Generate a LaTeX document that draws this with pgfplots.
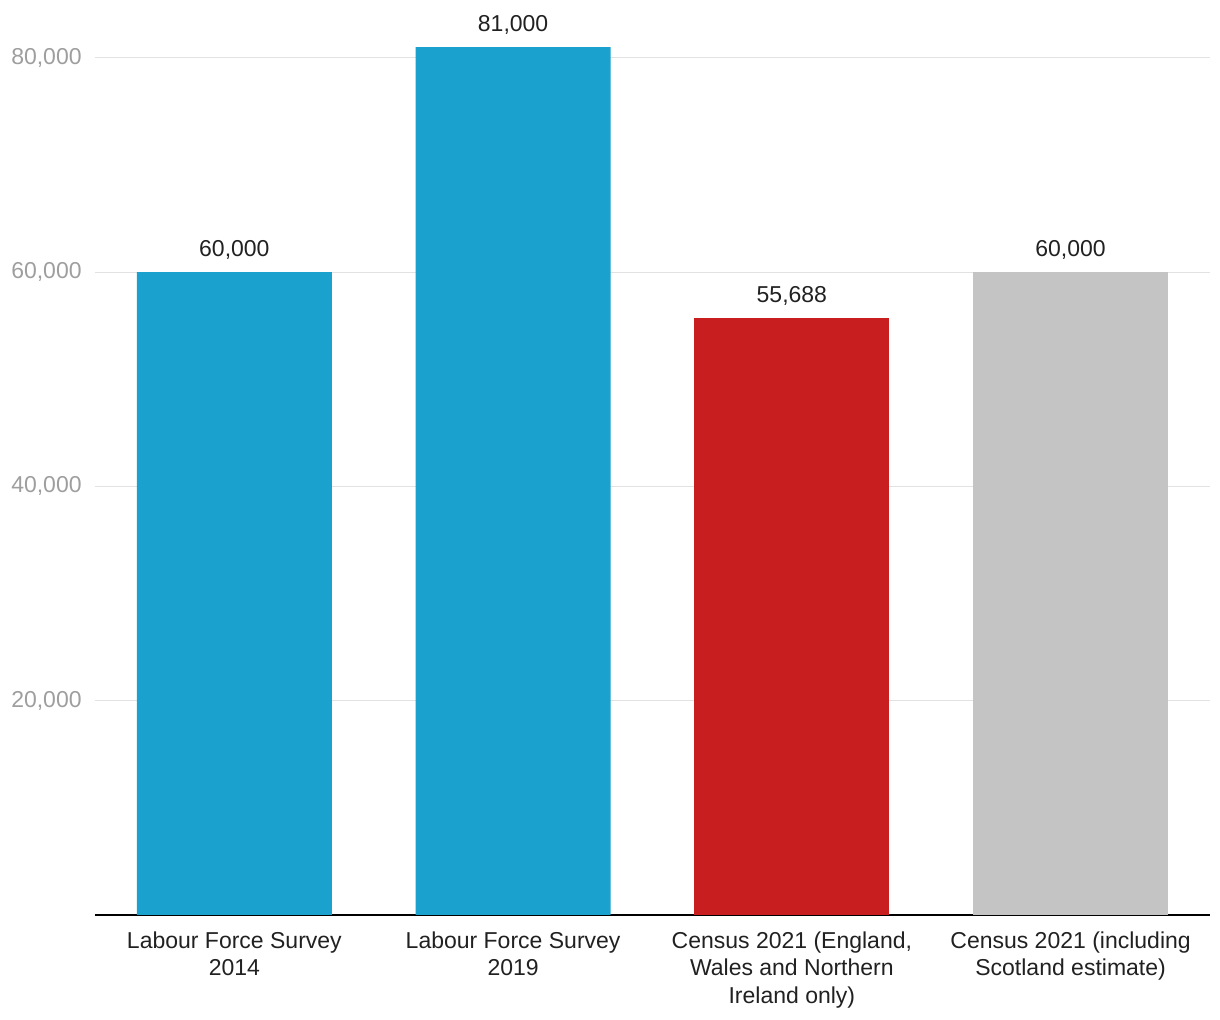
\documentclass[border=0pt]{standalone}
\usepackage{pgfplots}
\pgfplotsset{compat=1.18}
\usepackage{fontspec}
\setmainfont{Liberation Sans}
\definecolor{cblue}{HTML}{1AA1CE}
\definecolor{cred}{HTML}{C91E1F}
\definecolor{cgray}{HTML}{C4C4C4}
\definecolor{ticklab}{HTML}{9E9E9E}
\definecolor{gridc}{HTML}{E2E2E2}
\definecolor{txt}{HTML}{212121}
\begin{document}
\begin{tikzpicture}
\begin{axis}[
  scale only axis,
  width=557.5pt, height=457.5pt,
  xmin=-0.5, xmax=3.5,
  ymin=0, ymax=85400,
  ybar, bar width=0.7, bar shift=0pt,
  axis x line*=bottom, axis y line*=left,
  x axis line style={black, line width=1pt, -},
  y axis line style={draw=none},
  xtick={0,1,2,3},
  xticklabels={{Labour Force Survey\\2014},{Labour Force Survey\\2019},{Census 2021 (England,\\Wales and Northern\\Ireland only)},{Census 2021 (including\\Scotland estimate)}},
  xticklabel style={align=center, font=\fontsize{11.5}{13.8}\selectfont, text=txt, inner sep=0pt, yshift=-8pt, anchor=north},
  major tick length=0pt,
  ytick={20000,40000,60000,80000},
  yticklabel style={text=ticklab, font=\fontsize{11.5}{13}\selectfont, inner sep=0pt, xshift=-6.5pt, anchor=east, /pgf/number format/1000 sep={,}, /pgf/number format/fixed},
  scaled y ticks=false,
  ymajorgrids,
  grid style={gridc, line width=0.6pt},
  clip=false,
  nodes near coords,
  nodes near coords style={font=\fontsize{11.5}{13}\selectfont, text=txt, /pgf/number format/1000 sep={,}, /pgf/number format/fixed, anchor=south, yshift=3pt},
  /pgf/number format/assume math mode=true,
]
\addplot[fill=cblue, draw=none] coordinates {(0,60000) (1,81000)};
\addplot[fill=cred, draw=none] coordinates {(2,55688)};
\addplot[fill=cgray, draw=none] coordinates {(3,60000)};
\path (rel axis cs:-0.0852,-0.1148) rectangle (rel axis cs:1.009,1);
\end{axis}
\end{tikzpicture}
\end{document}
